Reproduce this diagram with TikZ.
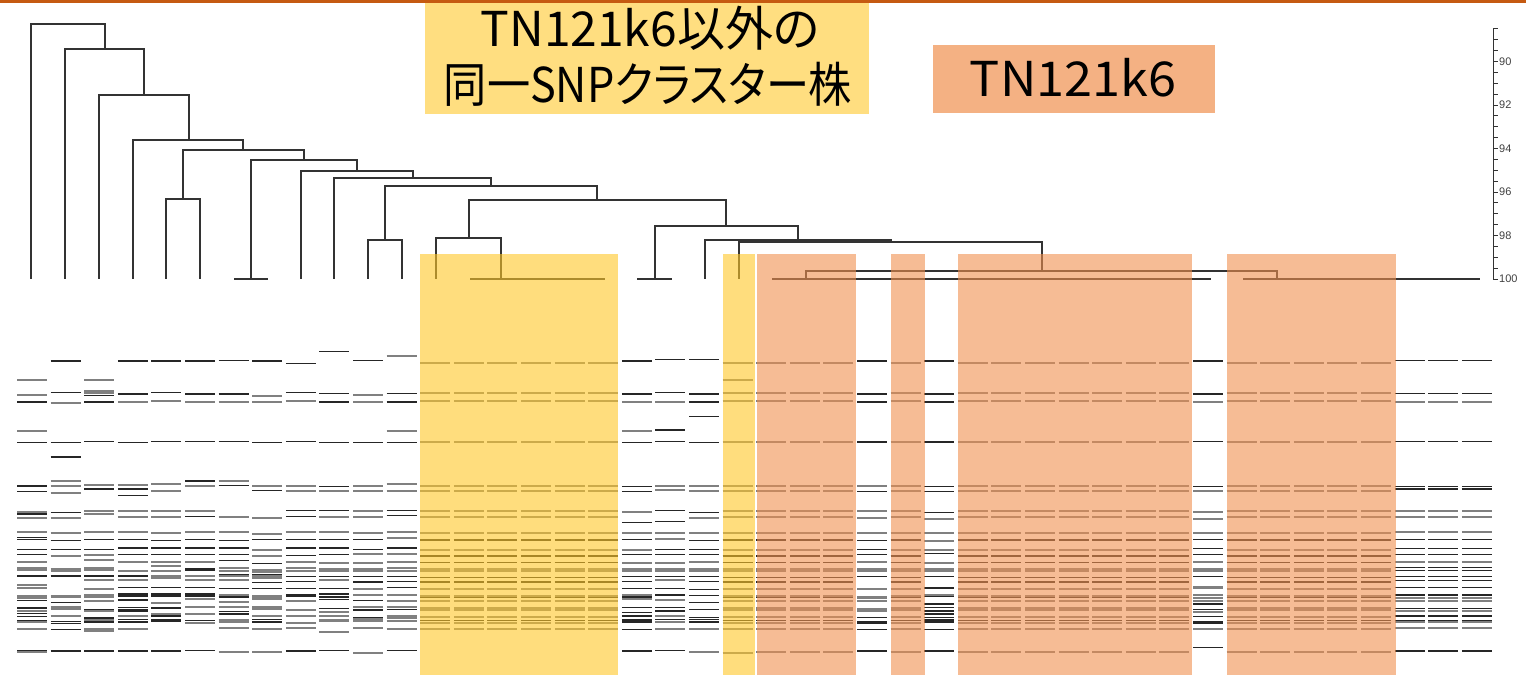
\documentclass[tikz,border=0pt]{standalone}
\usepackage{fontspec}
\newfontfamily\jpfont[RawFeature={+palt}]{Noto Sans CJK JP}
\newfontfamily\axfont{Liberation Sans}
\definecolor{topbar}{RGB}{197,90,17}
\definecolor{boxY}{RGB}{255,222,128}
\definecolor{boxO}{RGB}{244,177,131}
\definecolor{hlY}{RGB}{255,198,38}
\definecolor{hlO}{RGB}{240,143,78}
\tikzset{
  bandk/.style={draw=black!85,line width=1.5pt},
  bandg/.style={draw=black!50,line width=1.8pt},
  dendro/.style={draw=black!80,line width=1.2pt},
  hlyellow/.style={fill=hlY,fill opacity=0.6},
  hlorange/.style={fill=hlO,fill opacity=0.6},
  label/.style={font=\jpfont\fontsize{48}{48}\selectfont,anchor=base,inner sep=0pt},
  axislabel/.style={font=\axfont\fontsize{11}{11}\selectfont,text=black!75,anchor=west,inner sep=0pt}
}
% band positions: y in gel units (330 + y/3 px), k = dark band, g = grey band
\def\bandsA{150/g,195/g,216/k,304/g,337/k,468/k,484/k,545/g,552/k,563/g,605/g,623/k,628/k,658/k,674/k,695/g,713/g,720/g,738/k,766/g,773/g,797/g,804/g,812/k,834/k,843/g,851/k,859/k,873/k,877/g,896/g,962/k,966/g}
\def\bandsB{93/k,187/k,218/g,337/k,381/k,453/g,467/g,489/g,548/k,563/g,608/g,631/k,658/k,678/g,716/g,722/g,738/k,797/g,802/g,818/k,830/g,838/g,858/g,874/k,880/k,898/k,963/k}
\def\bandsC{150/g,184/g,190/g,196/k,216/k,334/k,466/g,477/k,543/g,552/g,607/g,628/k,658/k,674/g,689/g,713/g,720/g,738/k,749/g,776/g,794/g,800/g,813/g,838/k,843/g,864/k,870/g,876/k,896/g,902/g,963/k}
\def\bandsD{93/k,192/k,215/g,337/k,466/g,477/k,496/k,543/g,561/g,605/g,628/k,654/k,674/k,695/g,722/g,738/k,749/g,773/k,792/k,798/k,810/k,832/k,838/k,843/k,858/g,868/k,876/k,896/g,963/k}
\def\bandsE{93/k,187/k,212/g,334/k,463/g,482/g,543/g,561/g,608/g,631/k,654/k,674/k,695/g,709/g,722/g,738/g,743/g,773/k,792/k,798/k,820/g,832/k,836/k,851/g,858/k,870/k,875/k,963/k}
\def\bandsF{93/k,192/k,215/g,334/k,453/k,467/g,543/g,559/k,605/g,628/k,654/k,674/k,695/g,716/k,720/k,738/g,749/g,773/k,792/k,798/k,806/g,832/g,851/g,872/k,878/g,962/k}
\def\bandsG{91/k,192/k,215/g,334/k,453/g,467/k,561/g,605/g,631/k,654/k,674/k,692/k,713/g,724/g,733/k,738/g,749/g,775/k,794/g,801/k,815/g,832/g,845/k,852/k,870/g,876/g,893/g,966/g}
\def\bandsH{93/k,197/g,215/g,337/k,467/g,481/k,563/g,611/g,628/k,660/g,678/g,700/k,719/g,725/g,733/k,738/g,743/g,757/k,775/k,797/g,803/g,808/g,832/g,838/g,858/g,869/k,876/k,896/g,966/g}
\def\bandsI{100/k,187/k,212/g,334/k,467/g,482/g,541/k,559/k,605/g,628/k,654/k,677/k,695/g,713/g,722/g,740/k,754/k,775/k,795/k,798/k,812/g,840/g,858/g,878/g,893/g,963/k}
\def\bandsJ{64/k,190/k,216/k,337/k,469/k,482/g,541/k,561/g,605/g,628/k,654/k,674/k,698/g,716/g,722/g,740/k,749/g,775/k,792/k,801/k,808/k,836/k,845/g,858/g,869/g,874/g,905/g,962/k}
\def\bandsK{91/k,195/g,215/g,337/k,467/g,482/g,543/g,561/g,608/g,628/k,658/k,671/g,698/g,716/g,722/g,740/k,756/k,777/g,795/g,812/k,832/g,840/k,862/k,868/g,874/g,893/g,968/g}
\def\bandsL{79/g,190/k,216/k,304/g,337/k,463/g,482/g,541/k,556/k,607/g,625/g,654/k,671/g,695/g,713/g,722/g,740/k,754/k,773/k,795/g,813/g,832/g,838/k,858/g,864/g,872/g,896/g,962/k}
\def\bandsBase{98/g,190/g,214/g,336/g,467/g,483/g,544/g,561/g,609/g,630/k,659/g,678/k,697/k,716/g,722/g,742/k,756/k,778/g,797/g,803/k,813/g,835/g,841/g,860/g,872/k,880/g,897/g}
\def\bandsBaseL{98/g,190/g,214/g,336/g,467/g,483/g,544/g,561/g,609/g,630/k,659/g,678/k,697/k,716/g,722/g,742/k,756/k,778/g,797/g,803/k,813/g,835/g,841/g,860/g,872/k,880/g,897/g,965/g}
\def\bandsS{93/k,192/k,215/g,302/g,337/k,469/k,484/k,546/g,577/k,608/g,628/k,660/g,674/k,698/g,716/g,722/g,740/k,754/k,775/k,795/g,801/k,808/g,832/k,848/k,858/k,870/k,876/k,898/k,963/k}
\def\bandsT{89/k,187/k,215/g,300/k,334/k,467/g,480/g,541/k,575/k,608/g,627/g,658/k,674/k,698/g,716/g,722/g,740/k,750/g,775/k,793/k,797/k,810/g,832/k,843/k,858/g,868/k,876/g,896/g,962/k}
\def\bandsU{89/k,192/k,216/k,259/k,337/k,467/g,482/g,548/k,563/g,608/g,631/k,658/k,674/k,695/g,716/g,722/g,740/k,754/k,778/k,797/k,818/k,838/k,862/k,868/k,876/k,896/g,966/g}
\def\bandsV{98/g,151/g,190/g,214/g,336/g,467/g,483/g,544/g,561/g,609/g,630/k,659/g,678/k,697/k,716/g,722/g,742/k,756/k,778/g,797/g,803/k,813/g,835/g,841/g,860/g,872/k,880/g,897/g,968/g}
\def\bandsZ{93/k,192/k,216/k,336/k,467/g,484/k,543/g,563/g,608/g,631/k,658/k,674/k,695/g,716/g,722/g,740/k,778/g,800/g,805/g,812/g,838/g,843/g,862/k,876/k,880/k,898/k,963/k}
\def\bandsX{93/k,192/k,216/k,336/k,469/k,484/k,548/k,566/g,610/g,633/g,660/g,671/k,698/g,716/g,722/g,740/k,772/k,774/k,795/g,800/k,822/k,832/k,843/k,852/k,862/k,870/k,876/k,898/k,963/k}
\def\bandsY{93/k,192/k,216/g,334/k,469/k,484/g,546/g,566/g,608/g,628/k,655/k,674/k,695/g,716/g,722/g,740/k,772/g,774/g,795/g,803/g,812/g,822/k,838/k,845/g,860/k,876/k,880/k,898/g,952/k}
\def\bandsW{92/k,190/k,216/g,334/k,469/k,477/k,543/g,561/g,607/g,628/k,655/k,674/k,695/g,713/k,722/k,740/k,751/k,773/k,795/k,803/g,812/g,835/k,843/g,858/k,872/k,876/g,893/g,963/k}
\newcommand\gellane[2]{%
  \pgfmathsetmacro\gx{32+33.6*(#1-1)}%
  \foreach \z/\g in #2 {\draw[band\g] ({\gx-15},{330+\z/3}) -- ({\gx+15},{330+\z/3});}%
}
\begin{document}
\begin{tikzpicture}[x=1pt,y=-1pt]
\useasboundingbox (0,0) rectangle (1526,676);
% gel lanes
\gellane{1}{\bandsA}
\gellane{2}{\bandsB}
\gellane{3}{\bandsC}
\gellane{4}{\bandsD}
\gellane{5}{\bandsE}
\gellane{6}{\bandsF}
\gellane{7}{\bandsG}
\gellane{8}{\bandsH}
\gellane{9}{\bandsI}
\gellane{10}{\bandsJ}
\gellane{11}{\bandsK}
\gellane{12}{\bandsL}
\foreach \n in {13,...,18} {\gellane{\n}{\bandsBase}}
\gellane{19}{\bandsS}
\gellane{20}{\bandsT}
\gellane{21}{\bandsU}
\gellane{22}{\bandsV}
\foreach \n in {23,24,25,27,29,30,31,32,33,34,35,37,38,39,40,41} {\gellane{\n}{\bandsBaseL}}
\gellane{26}{\bandsZ}
\gellane{28}{\bandsX}
\gellane{36}{\bandsY}
\foreach \n in {42,43,44} {\gellane{\n}{\bandsW}}
% dendrogram: left x, right x, join height, left foot, right foot
\foreach \l/\r/\h/\lb/\rb in {
  31/105/24/279/49, 65/144/49/279/95, 99/189/95/279/140, 133/243/140/279/150,
  183/304/150/199/160, 166/200/199/279/279, 251/357/160/279/171, 301/413/171/279/178,
  334/491/178/279/186, 385/597/186/240/200, 368/402/240/279/279, 469/726/200/238/226,
  436/501/238/279/279, 655/798/226/279/240, 705/891/240/279/242, 739/1042/242/279/271,
  806/1277/271/279/279}
  {\draw[dendro] (\l,\lb) -- (\l,\h) -- (\r,\h) -- (\r,\rb);}
\foreach \a/\b in {234/268, 470/605, 637/672, 772/1211, 1243/1480}
  {\draw[dendro] (\a,279) -- (\b,279);}
% similarity scale
\draw[dendro,line width=1pt] (1493,29) -- (1493,279);
\foreach \p in {0,...,23} {\draw[dendro,line width=0.9pt] (1493,{279-\p*10.875}) -- (1498,{279-\p*10.875});}
\foreach \v/\k in {100/0,98/2,96/4,94/6,92/8,90/10}
  {\node[axislabel] (ax\v) at (1499,{279-\k*21.75}) {\v};}
% highlighted strains
\fill[hlyellow] (420,254) rectangle (618,675);
\fill[hlyellow] (723,254) rectangle (755,675);
\fill[hlorange] (757,254) rectangle (856,675);
\fill[hlorange] (891,254) rectangle (925,675);
\fill[hlorange] (958,254) rectangle (1192,675);
\fill[hlorange] (1227,254) rectangle (1396,675);
% header
\fill[topbar] (0,0) rectangle (1526,3);
\fill[boxY] (425,3) rectangle (869,114);
\fill[boxO] (933,45) rectangle (1215,113);
\node[label] (other1) at (650,47) {TN121k6以外の};
\node[label] (other2) at (648,103) {\scalebox{0.9}[1]{同一SNPクラスター株}};
\node[label] (k6) at (1073,97) {\scalebox{1.05}[1]{TN121k6}};
\end{tikzpicture}
\end{document}
